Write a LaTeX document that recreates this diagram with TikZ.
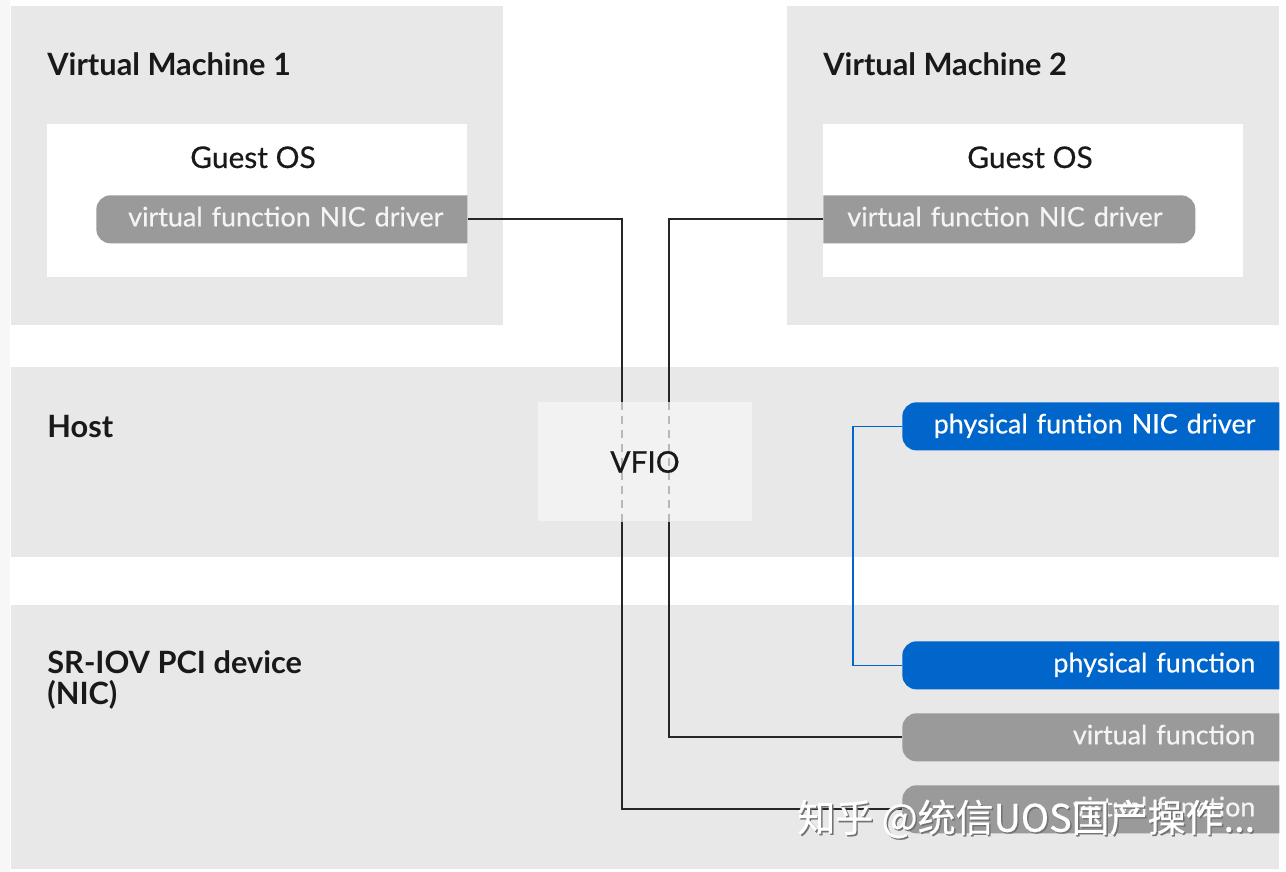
\documentclass[tikz,border=0pt]{standalone}
\usepackage{fontspec}
\setmainfont{Lato}
\newfontfamily\medfont{Lato}[FakeBold=0.5]
\newfontfamily\cjkwm{Noto Sans CJK SC}[FakeBold=0.6]
\def\upx{0.02cm}
\definecolor{panelgray}{HTML}{E8E8E8}
\definecolor{stripgray}{HTML}{F7F7F7}
\definecolor{pillgray}{HTML}{9A9A9A}
\definecolor{pilltext}{HTML}{F4F4F4}
\definecolor{rhblue}{HTML}{0066CC}
\definecolor{vfiofill}{HTML}{F2F2F2}
\definecolor{dashgray}{HTML}{B8B8B8}
\tikzset{
  panel/.style={fill=panelgray, draw=none, anchor=north west, inner sep=0pt},
  guestbox/.style={fill=white, draw=none, anchor=north west, inner sep=0pt},
  title/.style={anchor=base west, inner sep=0pt, font=\fontsize{17.5pt}{20pt}\selectfont\bfseries, text=black!90},
  plain/.style={inner sep=0pt, font=\medfont\fontsize{17pt}{20pt}\selectfont, text=black!90},
  pillbase/.style={anchor=north west, inner xsep=24*\upx, inner ysep=0pt,
     minimum height=48*\upx, text height=11pt, text depth=3pt,
     font=\medfont\fontsize{15.3pt}{18pt}\selectfont},
  pillL/.style={pillbase, text=pilltext, path picture={
     \fill[#1] (path picture bounding box.north east) -- (path picture bounding box.south east)
       [rounded corners=8pt] -- (path picture bounding box.south west) -- (path picture bounding box.north west)
       [sharp corners] -- cycle;}},
  pillR/.style={pillbase, text=pilltext, path picture={
     \fill[#1] (path picture bounding box.north west) -- (path picture bounding box.south west)
       [rounded corners=8pt] -- (path picture bounding box.south east) -- (path picture bounding box.north east)
       [sharp corners] -- cycle;}},
  conn/.style={draw=black!85, line width=2*\upx},
  dashconn/.style={draw=dashgray, line width=2*\upx, dash pattern=on 8*\upx off 6*\upx},
  blueconn/.style={draw=rhblue, line width=1.6*\upx},
  wmark/.style={anchor=west, inner sep=0pt, font=\cjkwm\fontsize{21.6pt}{24pt}\selectfont},
}
\begin{document}
\begin{tikzpicture}[x=0.02cm,y=-0.02cm]
\useasboundingbox (0,0) rectangle (1286,872);
\fill[white] (0,0) rectangle (1286,872);
\fill[stripgray] (0,0) rectangle (10,872);

% panels
\node[panel, minimum width=492*\upx, minimum height=319*\upx] (vm1) at (11,6) {};
\node[panel, minimum width=492*\upx, minimum height=319*\upx] (vm2) at (787,6) {};
\node[panel, minimum width=1268*\upx, minimum height=190*\upx] (host) at (11,367) {};
\node[panel, minimum width=1268*\upx, minimum height=264*\upx] (nic) at (11,605) {};

\node[guestbox, minimum width=420*\upx, minimum height=153*\upx] (g1) at (47,124) {};
\node[guestbox, minimum width=420*\upx, minimum height=153*\upx] (g2) at (823,124) {};

% titles
\node[title] (t1) at (47,75) {Virtual Machine 1};
\node[title] (t2) at (823,75) {Virtual Machine 2};
\node[title] (th) at (47,437) {Host};
\node[title] (ts1) at (47,673) {SR-IOV PCI device};
\node[title] (ts2) at (47,704) {(NIC)};
\node[plain, anchor=base] (go1) at (253,168) {Guest OS};
\node[plain, anchor=base] (go2) at (1030,168) {Guest OS};

% pills
\node[pillL=pillgray, text width=(371-48)*\upx, align=right] (d1) at (96,195) {virtual function NIC driver};
\node[pillR=pillgray, text width=(372-48)*\upx, align=left] (d2) at (823,195) {virtual function NIC driver};
\node[pillL=rhblue, text=white, text width=(377-48)*\upx, align=right] (pfd) at (902,402) {physical funtion NIC driver};
\node[pillL=rhblue, text=white, text width=(377-48)*\upx, align=right] (pf) at (902,641) {physical function};
\node[pillL=pillgray, text width=(377-48)*\upx, align=right] (vfa) at (902,713) {virtual function};
\node[pillL=pillgray, text width=(377-48)*\upx, align=right] (vfb) at (902,785) {virtual function};

% connectors
\coordinate (k1) at (622,500);
\coordinate (k2) at (669,500);
\coordinate (k3) at (853,540);
\draw[conn] (d1.east) -| (k1) |- (vfb.west);
\draw[conn] (d2.west) -| (k2) |- (vfa.west);
\draw[blueconn] (pfd.west) -| (k3) |- (pf.west);

% VFIO
\node[fill=vfiofill, anchor=north west, inner sep=0pt, minimum width=214*\upx, minimum height=119*\upx] (vfio) at (538,402) {};
\draw[dashconn] (vfio.north west -| k1) -- (vfio.south west -| k1);
\draw[dashconn] (vfio.north west -| k2) -- (vfio.south west -| k2);
\node[plain] (vfiot) at (645,462) {VFIO};

% watermark
\node[wmark, text=black!55] (wms) at (798.5,820.5) {知乎 @统信UOS国产操作...};
\node[wmark, text=white] (wm) at (797,819) {知乎 @统信UOS国产操作...};
\end{tikzpicture}
\end{document}
